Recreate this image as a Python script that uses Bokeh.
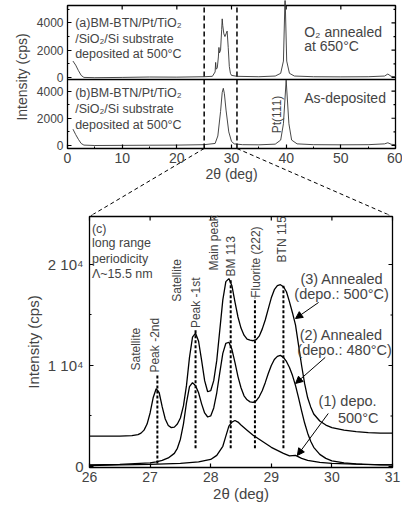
import math
from bokeh.plotting import figure
from bokeh.models import Range1d, FixedTicker, Label, Arrow, NormalHead
from bokeh.layouts import column
from bokeh.embed import file_html
from bokeh.resources import INLINE

FONT = "Liberation Sans"

# ---------------- top panel data (wide scan) ----------------
tt_a = [1.0, 1.5, 2.0, 2.5, 3.0, 5, 10, 15, 20, 25, 26.5, 27.0, 27.1, 27.2, 27.4, 27.6, 27.7, 27.8,
        28.0, 28.2, 28.3, 28.4, 28.6, 28.8, 29.0, 29.2, 29.4, 29.6, 29.8, 30.0, 31, 35, 38, 39,
        39.5, 39.8, 40.1, 40.6, 41.5, 45, 50, 55, 58, 58.6, 59.2, 60]
int_a = [1200, 900, 500, 150, 0, -20, 0, 30, 20, 50, 80, 400, 1100, 600, 700, 1500, 2200, 1800,
         2000, 3500, 4300, 3800, 3200, 3000, 3200, 3400, 2200, 800, 300, 150, 80, 50, 100, 300,
         1200, 6000, 1200, 300, 100, 50, 40, 50, 100, 250, 80, 50]

tt_b = [1.0, 1.5, 2.0, 2.5, 3.0, 5, 10, 15, 20, 25, 27, 27.5, 28.0, 28.3, 28.5, 28.7, 29.0, 29.5,
        30.0, 30.5, 32, 35, 38, 39, 39.5, 40.0, 40.5, 41, 42, 45, 50, 55, 58, 58.6, 59.2, 60]
int_b = [1200, 800, 450, 150, 30, 0, 10, 20, 30, 60, 150, 700, 2500, 3900, 4200, 3800, 2600, 1000,
         300, 120, 60, 50, 100, 400, 1600, 4800, 1600, 400, 120, 60, 50, 60, 120, 200, 90, 60]

offset_a = 5000            # vertical offset of the upper (a) sub-panel
divider = 4850             # boundary between the two sub-panels
top_yticks = [0, 2000, 4000]
top_yminor = [1000, 3000]
top_xticks = [0, 10, 20, 30, 40, 50, 60]
top_xminor = [5, 15, 25, 35, 45, 55]
zoom_window = [25, 31]

# ---------------- bottom panel data (zoom) ----------------
tt3 = [26.0, 26.5, 26.7, 26.8, 26.85, 26.9, 26.95, 27.0, 27.05, 27.1, 27.15, 27.2, 27.25, 27.3, 27.35,
       27.4, 27.45, 27.5, 27.55, 27.6, 27.65, 27.7, 27.75, 27.8, 27.85, 27.9, 27.95, 28.0, 28.05,
       28.1, 28.15, 28.2, 28.25, 28.3, 28.35, 28.4, 28.45, 28.5, 28.55, 28.6, 28.65, 28.7, 28.75,
       28.8, 28.85, 28.9, 28.95, 29.0, 29.05, 29.1, 29.15, 29.2, 29.25, 29.3, 29.35, 29.4, 29.45,
       29.5, 29.55, 29.6, 29.65, 29.7, 29.8, 29.9, 30.0, 30.2, 30.4, 30.6, 30.8, 31.0]
int3 = [3000, 3000, 3050, 3150, 3300, 3600, 4200, 5300, 6800, 7700, 7300, 5900, 4700, 4050, 3850,
        3900, 4200, 4800, 6000, 8000, 10800, 12800, 13200, 12400, 10500, 8500, 7400, 7500, 8500,
        10500, 13500, 16500, 18300, 18600, 17900, 16300, 14800, 13700, 13000, 12600, 12500, 12450, 12550,
        12900, 13600, 14500, 15600, 16700, 17500, 17900, 18000, 17800, 17300, 16300, 15200, 14000, 12000,
        10000, 8200, 6800, 5900, 5200, 4500, 4100, 3850, 3600, 3450, 3350, 3300, 3300]

tt2 = [26.0, 26.5, 27.0, 27.1, 27.2, 27.3, 27.4, 27.45, 27.5, 27.55, 27.6, 27.65, 27.7, 27.75, 27.8,
       27.85, 27.9, 27.95, 28.0, 28.05, 28.1, 28.15, 28.2, 28.25, 28.3, 28.35, 28.4, 28.45, 28.5,
       28.55, 28.6, 28.65, 28.7, 28.75, 28.8, 28.85, 28.9, 28.95, 29.0, 29.05, 29.1, 29.15, 29.2,
       29.25, 29.3, 29.35, 29.4, 29.45, 29.5, 29.55, 29.6, 29.65, 29.7, 29.8, 29.9, 30.0, 30.2, 30.4,
       30.6, 30.8, 31.0]
int2 = [150, 200, 350, 450, 600, 850, 1300, 1800, 2700, 4200, 6300, 7900, 8300, 8000, 7300,
        6200, 5300, 4900, 5000, 5800, 7300, 9300, 11200, 12200, 12300, 11600, 10300, 8900, 7800,
        7000, 6600, 6400, 6350, 6500, 6900, 7500, 8300, 9200, 10000, 10600, 10900, 11000, 10800,
        10400, 9800, 9000, 8000, 6800, 5500, 4300, 3300, 2500, 1900, 1200, 800, 550, 350, 250,
        200, 150, 150]

tt1 = [26.0, 26.5, 27.0, 27.5, 27.8, 28.0, 28.1, 28.2, 28.25, 28.3, 28.35, 28.4, 28.45, 28.5, 28.6,
       28.7, 28.8, 28.9, 29.0, 29.1, 29.2, 29.3, 29.4, 29.5, 29.6, 29.8, 30.0, 30.5, 31.0]
int1 = [100, 150, 200, 300, 450, 700, 1100, 2000, 3000, 4000, 4400, 4550, 4400, 4100, 3600,
        3100, 2700, 2300, 1900, 1600, 1300, 1050, 1100, 800, 600, 400, 300, 200, 150]

# peak marker lines: position, top, bottom
peak_pos = [27.12, 27.75, 28.33, 28.73, 29.2]
peak_top = [9200, 13500, 18600, 16700, 17900]
peak_bot = [300, 1800, 1800, 1800, 1800]

bot_xticks = [26, 27, 28, 29, 30, 31]
bot_yticks = [0, 10000, 20000]
bot_yminor = [5000, 15000]
bot_ylabels = {10000: "1 10\u2074", 20000: "2 10\u2074"}

# ---------------- geometry (page pixels; every axis is drawn inside the frame) ----------------
W = 402
TOP_H, BOT_H = 214, 294
TOP_X, TOP_Y = (0, 60), (-220, 10280)
BOT_X, BOT_Y = (26, 31), (-100, 24750)
# panel boxes in page pixels: left, right, top, bottom
T_BOX = (67, 395, 5, 148)
B_BOX = (89, 392, 216, 467)
T_FRAME = (0, W, 0, TOP_H)
B_FRAME = (0, W, TOP_H, TOP_H + BOT_H)


class Mapper:
    def __init__(self, xr, yr, box, frame):
        self.xr, self.yr, self.box, self.frame = xr, yr, box, frame
        self.xper = (xr[1] - xr[0]) / (box[1] - box[0])
        self.yper = (yr[1] - yr[0]) / (box[3] - box[2])

    def x_range(self):
        return Range1d(self.xr[0] - (self.box[0] - self.frame[0]) * self.xper,
                       self.xr[1] + (self.frame[1] - self.box[1]) * self.xper)

    def y_range(self):
        return Range1d(self.yr[0] - (self.frame[3] - self.box[3]) * self.yper,
                       self.yr[1] + (self.box[2] - self.frame[2]) * self.yper)

    def data(self, px, py):
        return (self.xr[0] + (px - self.box[0]) * self.xper,
                self.yr[0] + (self.box[3] - py) * self.yper)


TM = Mapper(TOP_X, TOP_Y, T_BOX, T_FRAME)
BM = Mapper(BOT_X, BOT_Y, B_BOX, B_FRAME)


def style_axes(p):
    for ax in p.axis:
        ax.major_tick_in = 4
        ax.major_tick_out = 0
        ax.minor_tick_in = 2
        ax.minor_tick_out = 0
        ax.axis_line_color = None
        ax.major_label_text_font = FONT
        ax.axis_label_text_font = FONT
        ax.axis_label_text_font_style = "normal"
        ax.major_tick_line_color = "black"
        ax.minor_tick_line_color = "black"
        ax.major_tick_line_width = 1.2


def inward_ticks(p, xs, ys, angle, length):
    p.ray(x=xs, y=ys, length=length, angle=angle, length_units="screen",
          line_color="black", line_width=1.2)


def new_fig(h, m):
    p = figure(width=W, height=h, output_backend="svg", toolbar_location=None,
               x_range=m.x_range(), y_range=m.y_range(),
               min_border_left=0, min_border_top=0, min_border_right=0, min_border_bottom=0)
    p.grid.visible = False
    p.outline_line_color = None
    return p


# ---------------- top figure ----------------
pt = new_fig(TOP_H, TM)
yt_all = top_yticks + [v + offset_a for v in top_yticks]
ym_all = top_yminor + [v + offset_a for v in top_yminor] + [4000 + offset_a + 1000]
pt.yaxis.ticker = FixedTicker(ticks=yt_all, minor_ticks=ym_all)
pt.yaxis.major_label_overrides = {v + offset_a: str(v) for v in top_yticks}
pt.yaxis.fixed_location = TOP_X[0]
pt.yaxis.bounds = TOP_Y
pt.yaxis.axis_label = "Intensity (cps)"
pt.yaxis.axis_label_text_font_size = "14px"
pt.yaxis.major_label_text_font_size = "12px"
pt.yaxis.major_label_standoff = 4
pt.yaxis.axis_label_standoff = 4
pt.xaxis.ticker = FixedTicker(ticks=top_xticks, minor_ticks=top_xminor)
pt.xaxis.fixed_location = TOP_Y[0]
pt.xaxis.bounds = TOP_X
pt.xaxis.axis_label = "2\u03b8 (deg)"
pt.xaxis.axis_label_text_font_size = "14px"
pt.xaxis.major_label_text_font_size = "14px"
pt.xaxis.axis_label_standoff = 0
pt.xaxis.major_label_standoff = 4
style_axes(pt)

pt.quad(left=TOP_X[0], right=TOP_X[1], bottom=TOP_Y[0], top=TOP_Y[1], fill_color=None,
        line_color="black", line_width=1.3)
inward_ticks(pt, [TOP_X[1]] * len(yt_all), yt_all, math.pi, 4)
inward_ticks(pt, [TOP_X[1]] * len(ym_all), ym_all, math.pi, 2)
inward_ticks(pt, top_xticks, [TOP_Y[1]] * len(top_xticks), -math.pi / 2, 4)

pt.line(tt_b, int_b, line_color="#333333", line_width=0.9)
pt.line(tt_a, [v + offset_a for v in int_a], line_color="#333333", line_width=0.9)
pt.segment(x0=[TOP_X[0]], y0=[divider], x1=[TOP_X[1]], y1=[divider], line_color="black", line_width=1.6)
pt.segment(x0=zoom_window, y0=[TOP_Y[0]] * 2, x1=zoom_window, y1=[TOP_Y[1]] * 2,
           line_color="black", line_width=1.5, line_dash="5 3")

# dashed connectors: zoom window (top panel) -> corners of panel (c)
corners = [(B_BOX[0], B_BOX[2]), (B_BOX[1], B_BOX[2])]
starts_px = [(T_BOX[0] + (x - TOP_X[0]) / TM.xper, T_BOX[3]) for x in zoom_window]
ends_top = [TM.data(*c) for c in corners]
pt.segment(x0=zoom_window, y0=[TOP_Y[0]] * 2, x1=[e[0] for e in ends_top], y1=[e[1] for e in ends_top],
           line_color="black", line_width=1, line_dash="4 3")

for txt, yv in [("(a)BM-BTN/Pt/TiO\u2082", 9018), ("/SiO\u2082/Si substrate", 7855),
                ("deposited at 500\u00b0C", 6690), ("(b)BM-BTN/Pt/TiO\u2082", 3855),
                ("/SiO\u2082/Si substrate", 2690), ("deposited at 500\u00b0C", 1527)]:
    pt.add_layout(Label(x=1.4, y=yv, text=txt, text_font=FONT, text_font_size="12.5px",
                        text_baseline="middle", text_align="left"))
for txt, yv in [("O\u2082 annealed", 8360), ("at 650\u00b0C", 7270), ("As-deposited", 3490)]:
    pt.add_layout(Label(x=43.3, y=yv, text=txt, text_font=FONT, text_font_size="14px",
                        text_baseline="middle", text_align="left"))
pt.add_layout(Label(x=38.3, y=900, text="Pt(111)", angle=math.pi / 2, text_font=FONT,
                    text_font_size="12px", text_baseline="middle", text_align="left"))

# ---------------- bottom figure ----------------
pb = new_fig(BOT_H, BM)
pb.yaxis.ticker = FixedTicker(ticks=bot_yticks, minor_ticks=bot_yminor)
pb.yaxis.major_label_overrides = bot_ylabels
pb.yaxis.fixed_location = BOT_X[0]
pb.yaxis.bounds = BOT_Y
pb.yaxis.axis_label = "Intensity (cps)"
pb.yaxis.axis_label_text_font_size = "15px"
pb.yaxis.major_label_text_font_size = "15px"
pb.yaxis.major_label_standoff = 6
pb.yaxis.axis_label_standoff = 3
pb.xaxis.ticker = FixedTicker(ticks=bot_xticks, minor_ticks=[])
pb.xaxis.fixed_location = BOT_Y[0]
pb.xaxis.bounds = BOT_X
pb.xaxis.axis_label = "2\u03b8 (deg)"
pb.xaxis.axis_label_text_font_size = "15px"
pb.xaxis.major_label_text_font_size = "14px"
pb.xaxis.axis_label_standoff = 0
pb.xaxis.major_label_standoff = 4
style_axes(pb)

pb.quad(left=BOT_X[0], right=BOT_X[1], bottom=BOT_Y[0], top=BOT_Y[1], fill_color=None,
        line_color="black", line_width=1.3)
inward_ticks(pb, [BOT_X[1]] * 3, bot_yticks, math.pi, 4)
inward_ticks(pb, [BOT_X[1]] * 2, bot_yminor, math.pi, 2)
inward_ticks(pb, bot_xticks, [BOT_Y[1]] * len(bot_xticks), -math.pi / 2, 4)

# last few pixels of the connectors (inside the bottom canvas)
seg_b = []
for (sx, sy), (cxp, cyp) in zip(starts_px, corners):
    yy = B_FRAME[2] - 1
    xx = sx + (cxp - sx) * (yy - sy) / (cyp - sy)
    seg_b.append((BM.data(xx, yy), BM.data(cxp, cyp)))
pb.segment(x0=[s[0][0] for s in seg_b], y0=[s[0][1] for s in seg_b],
           x1=[s[1][0] for s in seg_b], y1=[s[1][1] for s in seg_b],
           line_color="black", line_width=1, line_dash="4 3")

pb.line(tt3, int3, line_color="black", line_width=1.3)
pb.line(tt2, int2, line_color="black", line_width=1.3)
pb.line(tt1, int1, line_color="black", line_width=1.3)
pb.segment(x0=peak_pos, y0=peak_bot, x1=peak_pos, y1=peak_top, line_color="black",
           line_width=2, line_dash="3 2")

rot = [("Satellite", 26.76, 9500), ("Peak -2nd", 27.08, 9300), ("Satellite", 27.45, 16300),
       ("Peak -1st", 27.75, 13700), ("Main peak", 28.05, 19400), ("BM 113", 28.33, 18800),
       ("Fluorite (222)", 28.74, 16700), ("BTN 115", 29.18, 20200)]
for txt, xv, yv in rot:
    pb.add_layout(Label(x=xv, y=yv, text=txt, angle=math.pi / 2, text_font=FONT,
                        text_font_size="12px", text_baseline="middle", text_align="left"))

for txt, yv in [("(c)", 23560), ("long range", 22080), ("periodicity", 20590), ("\u039b~15.5 nm", 19100)]:
    pb.add_layout(Label(x=26.04, y=yv, text=txt, text_font=FONT, text_font_size="12.5px",
                        text_baseline="middle", text_align="left"))

for txt, xv, yv in [("(3) Annealed", 29.48, 18600), ("(depo.: 500\u00b0C)", 29.38, 17100),
                    ("(2) Annealed", 29.47, 12970), ("(depo.: 480\u00b0C)", 29.43, 11500),
                    ("(1) depo.", 29.78, 6530), ("500\u00b0C", 30.1, 4850)]:
    pb.add_layout(Label(x=xv, y=yv, text=txt, text_font=FONT, text_font_size="14.5px",
                        text_baseline="middle", text_align="left"))

for xs, ys, xe, ye in [(29.78, 16240, 29.40, 14650), (29.89, 10800, 29.40, 8220),
                       (29.94, 5250, 29.43, 1090)]:
    pb.add_layout(Arrow(x_start=xs, y_start=ys, x_end=xe, y_end=ye, line_width=1,
                        end=NormalHead(size=7, fill_color="black", line_color="black")))

layout = column(pt, pb, spacing=0)
open("out.html", "w").write(file_html(layout, INLINE))
